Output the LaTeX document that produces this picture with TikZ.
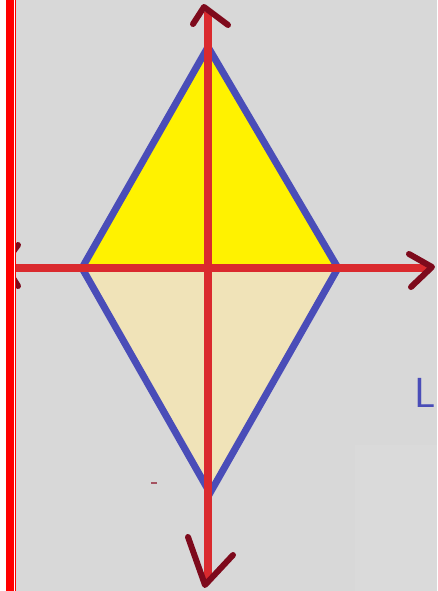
\documentclass[tikz,border=0pt]{standalone}
\usetikzlibrary{calc}
\definecolor{bg}{HTML}{D8D8D8}
\definecolor{bglight}{HTML}{DADADA}
\definecolor{topfill}{HTML}{FFF200}
\definecolor{botfill}{HTML}{F0E3B8}
\definecolor{edgeblue}{HTML}{4A4DB8}
\definecolor{axisred}{HTML}{DA2A2E}
\definecolor{headred}{HTML}{7E0A1C}
\definecolor{barred}{HTML}{FF0000}
\tikzset{
  edge/.style={draw=edgeblue, line width=7pt, line join=miter},
  axisline/.style={draw=axisred, line width=8pt},
  headline/.style={draw=headred, line width=6pt, line cap=round, line join=round},
}
\begin{document}
\begin{tikzpicture}[x=1pt,y=-1pt]
\useasboundingbox (0,0) rectangle (437,591);
\fill[bg] (0,0) rectangle (437,591);
\fill[bglight] (355,445) rectangle (437,591);
% vertices
\coordinate (T) at (208,47);
\coordinate (L) at (82,268);
\coordinate (R) at (338,268);
\coordinate (B) at (210,493);
\coordinate (O) at (208,268);
% fills
\fill[topfill] (L) -- (T) -- (R) -- cycle;
\fill[botfill] (L) -- (B) -- (R) -- cycle;
% outline
\draw[edge] (L) -- (T) -- (R) -- (B) -- cycle;
% axes
\coordinate (Atop) at (208,12);
\coordinate (Abot) at (208,580);
\coordinate (Aleft) at (12,268);
\coordinate (Aright) at (428,268);
\draw[axisline] (Atop) -- (Abot);
\draw[axisline] (Aleft) -- (Aright);
% arrowheads
\draw[headline] (193,24) -- (204,7) -- (228,25);
\draw[headline] (188,537) -- (205,585) -- (233,555);
\draw[headline] (409,254) -- (432,267) -- (411,287);
\draw[headline] (18,245) -- (4,264) -- (18,286);
% small mark
\draw[headred!70, line width=1.5pt] (151,483) -- (157,483);
% blue letter
\node[text=edgeblue, font=\sffamily\fontsize{42}{42}\selectfont, anchor=north east, inner sep=0pt] (letter) at (436,378) {L};
% left bar
\fill[white] (0,0) rectangle (6,591);
\fill[barred] (6,0) rectangle (13.5,591);
\fill[white] (13.5,0) rectangle (15,591);
\fill[barred] (15,0) rectangle (16.3,591);
\end{tikzpicture}
\end{document}
